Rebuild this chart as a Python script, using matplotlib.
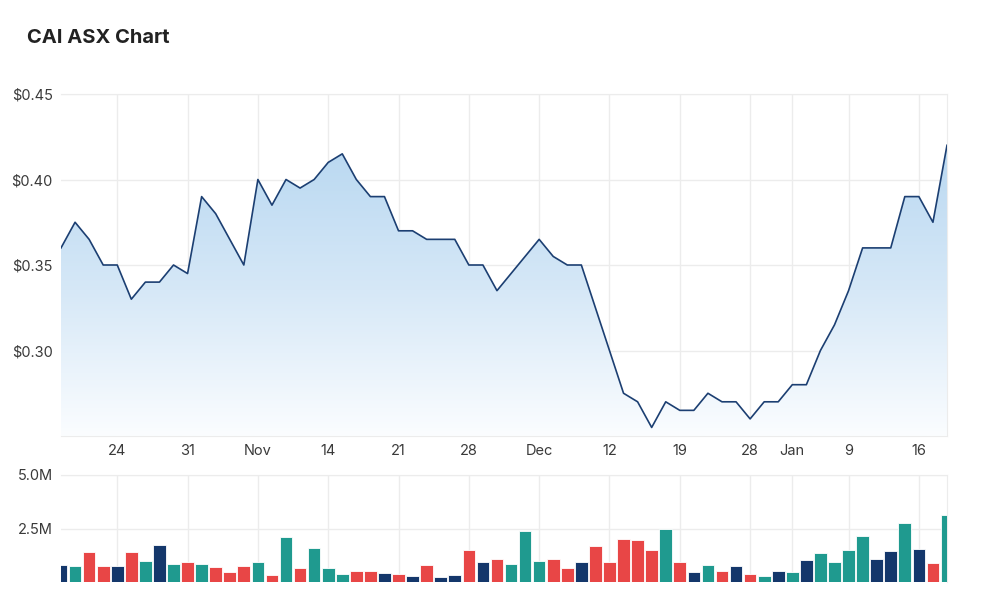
import numpy as np
import matplotlib
matplotlib.use("Agg")
import matplotlib.pyplot as plt
from matplotlib.colors import LinearSegmentedColormap

plt.rcParams['font.family'] = ['Inter', 'DejaVu Sans']

# daily close, 18 Oct 2022 - 18 Jan 2023 (trading days)
prices = [0.36, 0.375, 0.365, 0.35, 0.35, 0.33, 0.34, 0.34, 0.35, 0.345,
          0.39, 0.38, 0.365, 0.35, 0.40, 0.385, 0.40, 0.395, 0.40, 0.41,
          0.415, 0.40, 0.39, 0.39, 0.37, 0.37, 0.365, 0.365, 0.365, 0.35,
          0.35, 0.335, 0.345, 0.355, 0.365, 0.355, 0.35, 0.35, 0.325, 0.30,
          0.275, 0.27, 0.255, 0.27, 0.265, 0.265, 0.275, 0.27, 0.27, 0.26,
          0.27, 0.27, 0.28, 0.28, 0.30, 0.315, 0.335, 0.36, 0.36, 0.36,
          0.39, 0.39, 0.375, 0.42]

# volume in millions
volumes = [0.81, 0.73, 1.38, 0.73, 0.73, 1.38, 0.99, 1.74, 0.84, 0.93,
           0.84, 0.68, 0.48, 0.73, 0.93, 0.33, 2.08, 0.64, 1.58, 0.64,
           0.39, 0.53, 0.53, 0.43, 0.39, 0.28, 0.79, 0.23, 0.33, 1.49,
           0.93, 1.09, 0.84, 2.38, 0.99, 1.09, 0.64, 0.93, 1.69, 0.93,
           2.03, 1.94, 1.49, 2.48, 0.93, 0.48, 0.78, 0.53, 0.73, 0.39,
           0.28, 0.53, 0.48, 1.02, 1.34, 0.93, 1.49, 2.14, 1.09, 1.43,
           2.78, 1.54, 0.89, 3.14]

# x ticks (index of trading day) and their labels
tick_days = [4, 9, 14, 19, 24, 29, 34, 39, 44, 49, 52, 56, 61]
tick_labels = ["24", "31", "Nov", "14", "21", "28", "Dec", "12", "19", "28", "Jan", "9", "16"]

price_ticks = [0.30, 0.35, 0.40, 0.45]
vol_ticks = [2.5, 5.0]

NAVY = "#14376b"
TEAL = "#1f9a8f"
RED = "#e84646"
LINE = "#1c3f72"
GRID = "#ececec"
TXT = "#3a3a3a"

x = np.arange(len(prices))

# bar colour: up = teal, down = red, unchanged = navy
bar_colors = [NAVY]
for a, b in zip(prices[:-1], prices[1:]):
    if b > a:
        bar_colors.append(TEAL)
    elif b < a:
        bar_colors.append(RED)
    else:
        bar_colors.append(NAVY)

fig = plt.figure(figsize=(10, 6.14), dpi=100)
ax = fig.add_axes([0.061, 0.2899, 0.886, 0.557])
axv = fig.add_axes([0.061, 0.0521, 0.886, 0.1743])

# ---- price panel ----
ymin, ymax = 0.25, 0.45
poly = ax.fill_between(x, prices, ymin, color="none", lw=0)
cmap = LinearSegmentedColormap.from_list("fade", ["#fbfdff", "#d6e8f7", "#b9d8f1"])
grad = np.linspace(0, 1, 256).reshape(-1, 1)
img = ax.imshow(grad, cmap=cmap, origin="lower", aspect="auto",
                extent=[x[0], x[-1], ymin, 0.42], zorder=1)
img.set_clip_path(poly.get_paths()[0], transform=ax.transData)
ax.plot(x, prices, color=LINE, lw=1.2, zorder=3)

ax.set_xlim(x[0], x[-1])
ax.set_ylim(ymin, ymax)
ax.set_yticks(price_ticks)
ax.set_yticklabels([f"${p:.2f}" for p in price_ticks])
ax.set_xticks(tick_days)
ax.set_xticklabels(tick_labels)

# ---- volume panel ----
axv.bar(x, volumes, width=0.9, color=bar_colors, edgecolor="#ffffff",
        linewidth=0.6, zorder=3)
axv.set_xlim(x[0], x[-1])
axv.set_ylim(0, 5.0)
axv.set_yticks(vol_ticks)
axv.set_yticklabels([f"{v:.1f}M" for v in vol_ticks])
axv.set_xticks(tick_days)
axv.set_xticklabels([])

for a in (ax, axv):
    a.grid(True, color=GRID, lw=1, zorder=0)
    a.set_axisbelow(True)
    for s in ("left", "bottom"):
        a.spines[s].set_visible(False)
    for s in ("top", "right"):
        a.spines[s].set_color(GRID)
    a.spines["bottom"].set_visible(True)
    a.spines["bottom"].set_color(GRID)
    a.tick_params(length=0, labelsize=10.5, colors=TXT, pad=6)
axv.spines["bottom"].set_visible(False)

fig.text(0.027, 0.938, "CAI ASX Chart", fontsize=14.5, fontweight="bold",
         color="#222222", va="center", ha="left")

fig.savefig("out.png", dpi=100, facecolor="white")
